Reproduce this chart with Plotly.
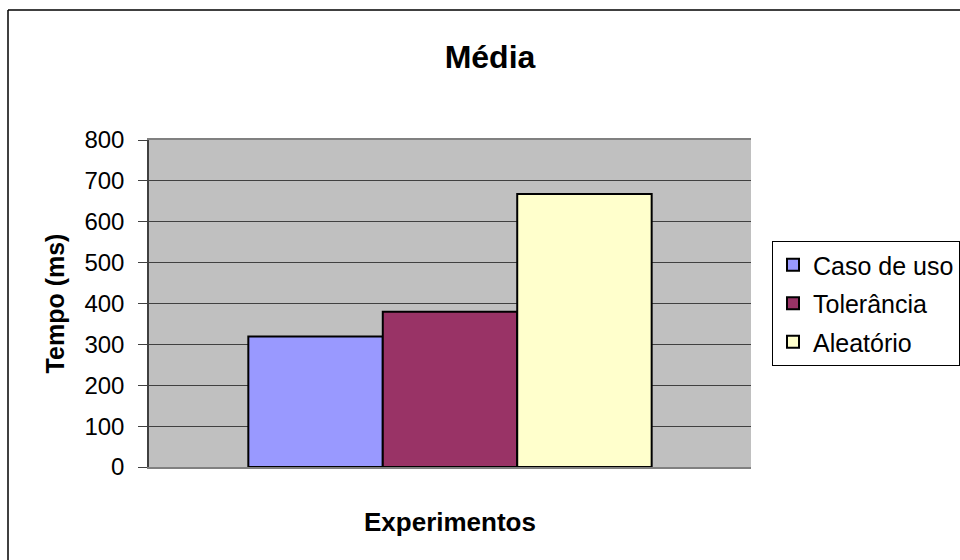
import plotly.graph_objects as go

# data
categories = ["Experimentos"]
series_names = ["Caso de uso", "Tolerância", "Aleatório"]
caso_de_uso = [319]
tolerancia = [380]
aleatorio = [668]
y_ticks = [0, 100, 200, 300, 400, 500, 600, 700, 800]

colours = ["#9999FF", "#993366", "#FFFFCC"]
FONT = "Liberation Sans, Arial, sans-serif"

W, H = 960, 560
L, R, T, B = 149, 209, 140, 93
plot_w = W - L - R
plot_h = H - T - B

fig = go.Figure()
for name, vals, col in zip(series_names, [caso_de_uso, tolerancia, aleatorio], colours):
    fig.add_trace(
        go.Bar(
            x=categories,
            y=vals,
            name=name,
            legendgroup=name,
            marker=dict(color=col, line=dict(color="black", width=2)),
        )
    )

fig.update_layout(
    width=W,
    height=H,
    margin=dict(l=L, r=R, t=T, b=B, autoexpand=False),
    paper_bgcolor="white",
    plot_bgcolor="#C0C0C0",
    barmode="group",
    bargap=0.33,
    bargroupgap=0,
    font=dict(family=FONT, size=24, color="black"),
    title=dict(
        text="<b>Média</b>",
        font=dict(size=32),
        x=490 / W,
        xanchor="center",
        y=1 - 57 / H,
        yanchor="middle",
    ),
    legend=dict(
        x=(772 - L) / plot_w,
        y=(467 - 241) / plot_h,
        xanchor="left",
        yanchor="top",
        bordercolor="black",
        borderwidth=1,
        bgcolor="white",
        traceorder="grouped",
        tracegroupgap=3,
        font=dict(size=25),
    ),
    showlegend=True,
)

fig.update_xaxes(
    showticklabels=False,
    showline=True,
    linecolor="#808080",
    linewidth=1.5,
    mirror=True,
    title=dict(text="<b>Experimentos</b>", font=dict(size=26), standoff=45),
)

fig.update_yaxes(
    range=[0, 800],
    tickvals=y_ticks,
    ticks="outside",
    ticklen=9,
    tickcolor="#404040",
    ticklabelstandoff=9,
    showline=True,
    linecolor="#404040",
    linewidth=1.5,
    showgrid=True,
    gridcolor="#404040",
    gridwidth=1,
    zeroline=False,
    title=dict(text="<b>Tempo (ms)</b>", font=dict(size=25), standoff=13),
)

# outer chart frame: only its top and left edges fall inside the window
frame_x = (8 - L) / plot_w
frame_y = (H - B - 10) / plot_h
for x0, y0, x1, y1 in [(frame_x, frame_y, 2.0, frame_y), (frame_x, frame_y, frame_x, -1.0)]:
    fig.add_shape(
        type="line",
        xref="paper",
        yref="paper",
        x0=x0,
        y0=y0,
        x1=x1,
        y1=y1,
        line=dict(color="black", width=1.5),
        layer="below",
    )

# drop the default page margin so the figure fills the window exactly
fig.write_html(
    "out.html",
    config={"displayModeBar": False},
    post_script="document.body.style.margin='0';document.documentElement.style.overflow='hidden';",
)
